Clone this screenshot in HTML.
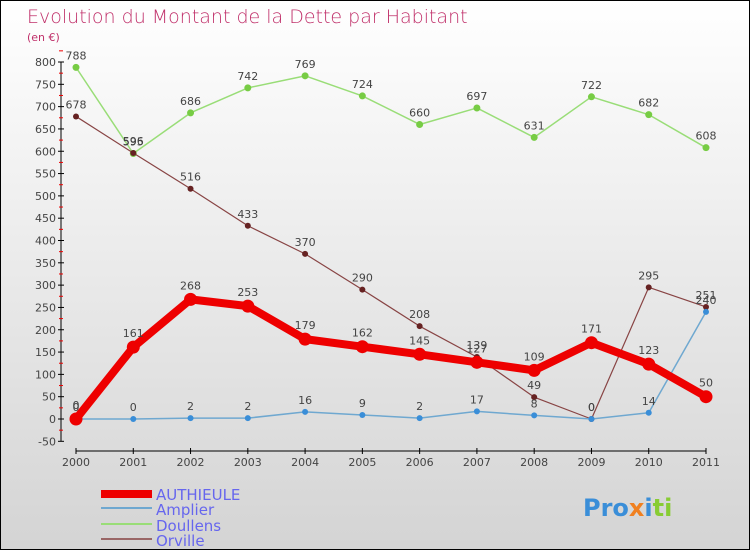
<!DOCTYPE html>
<html><head><meta charset="utf-8"><style>
body{margin:0;}
#wrap{width:748px;height:548px;border:1px solid #000;background:linear-gradient(#fff,#d4d4d4);position:relative;overflow:hidden;font-family:"DejaVu Sans","Liberation Sans",sans-serif;}
text{font-family:"DejaVu Sans","Liberation Sans",sans-serif;}
</style></head><body>
<div id="wrap">
<svg id="chart" width="748" height="548">
<text x="26" y="22" font-size="19" fill="#c0306a" style="font-weight:200">Evolution du Montant de la Dette par Habitant</text>
<text x="26" y="40" font-size="11" fill="#c0306a">(en €)</text>
<g id="axes"></g><g id="series"></g>
<g>
<rect x="100" y="489" width="51" height="8" fill="#e00"/>
<text x="155" y="499" font-size="15" fill="#6666ee">AUTHIEULE</text>
<rect x="100" y="506" width="51" height="2" fill="#6fa8d0"/>
<text x="155" y="514" font-size="15" fill="#6666ee">Amplier</text>
<rect x="100" y="522" width="51" height="2" fill="#99dd77"/>
<text x="155" y="530" font-size="15" fill="#6666ee">Doullens</text>
<rect x="100" y="537" width="51" height="2" fill="#996666"/>
<text x="155" y="545" font-size="15" fill="#6666ee">Orville</text>
</g>
<text x="582" y="515" font-size="24" font-weight="bold" fill="#3a8ed8">Pro<tspan fill="#f08020">x</tspan><tspan fill="#3a8ed8">i</tspan><tspan fill="#88cc33">ti</tspan></text>
</svg></div>
<script>
const years=[2000,2001,2002,2003,2004,2005,2006,2007,2008,2009,2010,2011];
const yTicks=[-50,0,50,100,150,200,250,300,350,400,450,500,550,600,650,700,750,800];
const authieule=[0,161,268,253,179,162,145,127,109,171,123,50];
const amplier=[0,0,2,2,16,9,2,17,8,0,14,240];
const doullens=[788,595,686,742,769,724,660,697,631,722,682,608];
const orville=[678,596,516,433,370,290,208,139,49,0,295,251];
const NS="http://www.w3.org/2000/svg";
const X=i=>75+i*(630/11);
const Y=v=>418-v*0.44625;
function el(t,a,p){const e=document.createElementNS(NS,t);for(const k in a)e.setAttribute(k,a[k]);p.appendChild(e);return e;}
const ax=document.getElementById('axes');
const ya=el('line',{x1:60,y1:Y(800),x2:60,y2:Y(-50),stroke:'#000'},ax);


const xa=el('line',{x1:75,y1:450,x2:705,y2:450,stroke:'#000'},ax);


yTicks.forEach(v=>{
  el('line',{x1:57,x2:63,y1:Y(v),y2:Y(v),stroke:'#000'},ax);
  el('line',{x1:58,x2:62,y1:Y(v+25),y2:Y(v+25),stroke:'#e00'},ax);
  const t=el('text',{x:55,y:Y(v)+4,'font-size':11,'text-anchor':'end',fill:'#444'},ax);
  t.textContent=v;
  
  
});
years.forEach((y,i)=>{
  el('line',{x1:X(i),x2:X(i),y1:447,y2:453,stroke:'#000'},ax);
  const t=el('text',{x:X(i),y:465,'font-size':11,'text-anchor':'middle',fill:'#444'},ax);
  t.textContent=y;
  
  
});
const sg=document.getElementById('series');
function draw(name,data,color,w,r,dot){
  const g=el('g',{},sg);
  
  
  const l=el('polyline',{points:data.map((v,i)=>X(i)+','+Y(v)).join(' '),fill:'none',stroke:color,'stroke-width':w,'stroke-linejoin':'round'},g);
  
  
  data.forEach((v,i)=>{
    const c=el('circle',{cx:X(i),cy:Y(v),r:r,fill:dot,stroke:color==='#e00'?'#e00':'none','stroke-width':color==='#e00'?3:0},g);
    
    
    const t=el('text',{x:X(i),y:Y(v)-(color==='#e00'?10:8),'font-size':11,'text-anchor':'middle',fill:'#444'},g);
    t.textContent=v;
    
    
  });
}
draw('doullens',doullens,'#99dd77',1.5,3.5,'#77cc44');
draw('orville',orville,'#884444',1.2,3,'#662222');
draw('amplier',amplier,'#6fa8d0',1.5,3,'#3a8ed8');
draw('authieule',authieule,'#e00',8,5,'#e00');
</script>
</body></html>
